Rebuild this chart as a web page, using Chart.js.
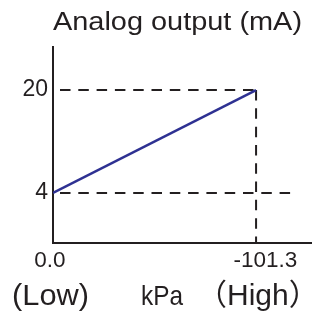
<!DOCTYPE html>
<html>
<head>
<meta charset="utf-8">
<script src="https://cdn.jsdelivr.net/npm/chart.js@4.4.1/dist/chart.umd.min.js"></script>
<style>
  body { margin: 0; background: #fff; }
  canvas { display: block; }
</style>
</head>
<body>
<canvas id="myChart" width="312" height="314"></canvas>
<script>
// pressure (kPa) vs analog output (mA)
var pressureKPa = [0, -101.3];
var outputMA = [4, 20];
var xTicks = [0, -101.3];
var xTickLabels = ['0.0 ', '   -101.3'];   // spaces nudge the labels like the original
var yTicks = [4, 20];
var guideEndKPa = -121.5;   // where the 4 mA guide line stops
var yMin = -3.8, yMax = 26.7, xMin = -129.2, xMax = 0;

var ink = '#231f20';
var fam = "'Liberation Sans', Arial, 'Noto Sans CJK SC', sans-serif";

function pts(xs, ys) {
    return xs.map(function(x, i){ return {x: x, y: ys[i]}; });
}

// draws text squeezed/stretched to a given width
function fitText(ctx, text, x, y, width) {
    var w = ctx.measureText(text).width;
    ctx.save();
    ctx.translate(x, y);
    ctx.scale(width / w, 1);
    ctx.fillText(text, 0, 0);
    ctx.restore();
}

var textPlugin = {
    id: 'texts',
    afterDraw: function(chart) {
        var ctx = chart.ctx;
        ctx.save();
        ctx.fillStyle = ink;
        ctx.textBaseline = 'alphabetic';
        ctx.textAlign = 'left';
        ctx.font = '25px ' + fam;
        fitText(ctx, 'Analog output (mA)', 53, 30, 249);
        ctx.font = '30px ' + fam;
        fitText(ctx, '(Low)', 12, 305, 77);
        ctx.font = '28px ' + fam;
        fitText(ctx, 'kPa', 141, 305, 42);
        ctx.font = '30px ' + fam;
        ctx.fillText('（High）', 197, 305);
        ctx.restore();
    }
};

var dash = [10.5, 7.8];
var dashOff = 11.3;
var ctx = document.getElementById('myChart').getContext('2d');
var myChart = new Chart(ctx, {
    type: 'line',
    data: {
        datasets: [{
            data: pts(pressureKPa, outputMA),
            borderColor: '#2e3192',
            borderWidth: 2.5
        }, {
            data: pts([xTicks[0], pressureKPa[1]], [outputMA[1], outputMA[1]]),
            borderColor: ink,
            borderWidth: 2,
            borderDash: dash,
            borderDashOffset: dashOff
        }, {
            data: pts([xTicks[0], guideEndKPa], [outputMA[0], outputMA[0]]),
            borderColor: ink,
            borderWidth: 2,
            borderDash: dash,
            borderDashOffset: dashOff
        }, {
            data: pts([pressureKPa[1], pressureKPa[1]], [outputMA[1], yMin]),
            borderColor: ink,
            borderWidth: 2,
            borderDash: dash,
            borderDashOffset: 0
        }]
    },
    options: {
        responsive: false,
        animation: false,
        layout: { padding: { top: 47, right: 0, bottom: 0, left: 0 } },
        elements: { point: { radius: 0 }, line: { tension: 0 } },
        plugins: { legend: { display: false }, tooltip: { enabled: false } },
        scales: {
            x: {
                type: 'linear',
                reverse: true,
                min: xMin,
                max: xMax,
                afterBuildTicks: function(s){ s.ticks = xTicks.map(function(v){ return {value: v}; }); },
                afterFit: function(s){ s.height = 71; },
                grid: { display: false, drawTicks: false },
                border: { display: true, color: ink, width: 2 },
                ticks: {
                    color: ink,
                    padding: 4,
                    maxRotation: 0,
                    autoSkip: false,
                    font: { family: fam, size: 22.5 },
                    callback: function(v, i){ return xTickLabels[i]; }
                }
            },
            y: {
                type: 'linear',
                min: yMin,
                max: yMax,
                afterBuildTicks: function(s){ s.ticks = yTicks.map(function(v){ return {value: v}; }); },
                afterFit: function(s){ s.width = 53; },
                grid: { display: false, drawTicks: false },
                border: { display: true, color: ink, width: 2 },
                ticks: {
                    color: ink,
                    padding: 5,
                    font: { family: fam, size: 23 }
                }
            }
        }
    },
    plugins: [textPlugin]
});
</script>
</body>
</html>
